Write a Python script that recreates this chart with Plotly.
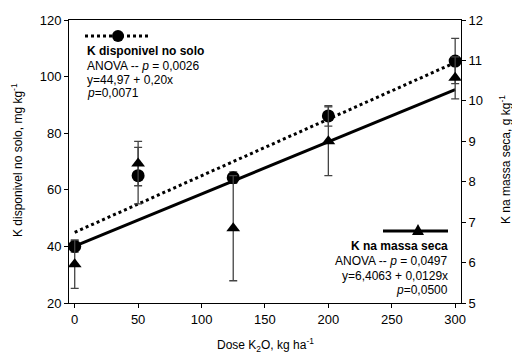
import plotly.graph_objects as go

dose = [0, 50, 125, 200, 300]
k_solo = [40.0, 65.0, 64.3, 86.1, 105.5]
k_solo_err = [2.0, 10.0, 2.0, 3.6, 8.0]
k_massa = [5.96, 8.45, 6.85, 9.0, 10.57]
k_massa_err = [0.6, 0.55, 1.3, 0.85, 0.52]

fit_x = [0, 300]
solo_a, solo_b = 44.97, 0.20
massa_a, massa_b = 6.4063, 0.0129
solo_fit = [solo_a + solo_b * x for x in fit_x]
massa_fit = [massa_a + massa_b * x for x in fit_x]

FONT = "Liberation Sans, Arial, sans-serif"
ERRC = "#444444"

fig = go.Figure()
fig.add_trace(go.Scatter(x=fit_x, y=solo_fit, mode="lines",
                         line=dict(color="black", width=3, dash="dot"), showlegend=False))
fig.add_trace(go.Scatter(x=fit_x, y=massa_fit, mode="lines", yaxis="y2",
                         line=dict(color="black", width=3), showlegend=False))
fig.add_trace(go.Scatter(x=dose, y=k_massa, mode="markers", yaxis="y2",
                         marker=dict(symbol="triangle-up", size=12, color="black"),
                         error_y=dict(type="data", array=k_massa_err, color=ERRC, thickness=1.3, width=4),
                         showlegend=False))
fig.add_trace(go.Scatter(x=dose, y=k_solo, mode="markers",
                         marker=dict(symbol="circle", size=13, color="black"),
                         error_y=dict(type="data", array=k_solo_err, color=ERRC, thickness=1.3, width=4),
                         showlegend=False))

L, R, T, B = 69, 461, 20, 303
W, H = R - L, B - T
def px(x):
    return (x - L) / W
def py(y):
    return (B - y) / H

shapes = [
    dict(type="line", xref="paper", yref="paper", x0=px(85), x1=px(149), y0=py(36), y1=py(36),
         line=dict(color="black", width=3, dash="dot")),
    dict(type="circle", xref="paper", yref="paper", x0=px(112), x1=px(124), y0=py(42), y1=py(30),
         fillcolor="black", line=dict(color="black", width=0)),
    dict(type="line", xref="paper", yref="paper", x0=px(383), x1=px(448), y0=py(231), y1=py(231),
         line=dict(color="black", width=3)),
    dict(type="path", xref="paper", yref="paper",
         path=f"M {px(412)},{py(235)} L {px(424)},{py(235)} L {px(418)},{py(224)} Z",
         fillcolor="black", line=dict(color="black", width=0)),
]

ann = []
def txt(t, x, y, anchor, bold=False, angle=0):
    ann.append(dict(text=(f"<b>{t}</b>" if bold else t), x=px(x), y=py(y), xref="paper", yref="paper",
                    xanchor=anchor, yanchor="middle", showarrow=False, textangle=angle,
                    font=dict(family=FONT, size=12, color="black")))

txt("K disponivel no solo", 85, 51, "left", True)
txt("ANOVA -- <i>p</i> = 0,0026", 85, 65.5, "left")
txt("y=44,97 + 0,20x", 85, 80, "left")
txt("<i>p</i>=0,0071", 85, 93, "left")
txt("K na massa seca", 450, 246, "right", True)
txt("ANOVA -- <i>p</i> = 0,0497", 450, 261, "right")
txt("y=6,4063 + 0,0129x", 450, 276, "right")
txt("<i>p</i>=0,0500", 450, 290, "right")
# axis titles
txt("K disponivel no solo, mg kg<sup>-1</sup>", 17, 160, "center", angle=-90)
txt("K na massa seca, g kg<sup>-1</sup>", 505, 160, "center", angle=-90)
txt("Dose K<sub>2</sub>O, kg ha<sup>-1</sup>", 265, 345, "center")

axis_common = dict(showgrid=False, zeroline=False, showline=True, linecolor="black", linewidth=1,
                   ticks="outside", ticklen=4, tickcolor="black", automargin=False,
                   tickfont=dict(family=FONT, size=13, color="black"))

fig.update_layout(
    width=512, height=355,
    margin=dict(l=L, r=512 - R, t=T, b=355 - B, autoexpand=False),
    paper_bgcolor="white", plot_bgcolor="white",
    font=dict(family=FONT, color="black"),
    xaxis=dict(range=[-4.5, 304.6], tickvals=[0, 50, 100, 150, 200, 250, 300], mirror=True,
               **axis_common),
    yaxis=dict(range=[20, 120], dtick=20, **axis_common),
    yaxis2=dict(range=[5, 12], dtick=1, overlaying="y", side="right", **axis_common),
    shapes=shapes, annotations=ann,
)

fig.write_html("out.html", config={"displayModeBar": False},
               post_script="document.body.style.margin='0';document.body.style.overflow='hidden';")
